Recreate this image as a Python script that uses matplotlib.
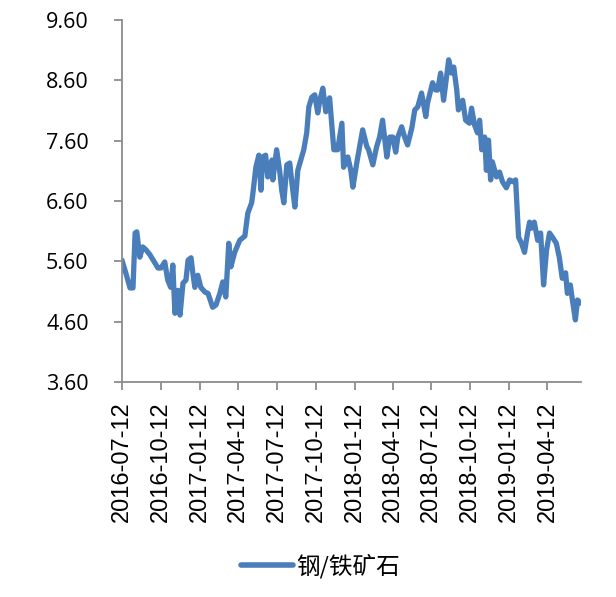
import matplotlib
matplotlib.use("Agg")
import matplotlib.pyplot as plt
import numpy as np
import pandas as pd

plt.rcParams['font.family'] = ['Noto Sans CJK SC', 'DejaVu Sans']

start_date = "2016-07-12"
day_offset = [0, 9, 19, 26, 31, 35, 42, 49, 57, 66, 78, 85, 92, 101, 108, 115, 120, 125,
              132, 137, 144, 151, 156, 163, 167, 172, 179, 186, 196, 203, 214, 222, 231,
              238, 245, 252, 257, 266, 278, 290, 297, 306, 309, 316, 323, 328, 332, 339,
              344, 354, 356, 365, 372, 377, 382, 389, 396, 401, 408, 415, 424, 429, 436,
              441, 448, 455, 462, 467, 474, 481, 490, 495, 500, 509, 519, 523, 533, 540,
              545, 554, 561, 568, 578, 582, 592, 601, 608, 615, 625, 632, 639, 646, 651,
              660, 667, 674, 684, 691, 698, 707, 717, 721, 733, 740, 745, 752, 759, 766,
              771, 778, 783, 790, 794, 804, 811, 820, 825, 832, 839, 844, 849, 856, 860,
              865, 870, 874, 884, 891, 898, 907, 915, 922, 929, 933, 936, 943, 950, 957,
              962, 966, 973, 981, 988, 995, 1002, 1009, 1016, 1025, 1032, 1039, 1047, 1051,
              1058, 1063, 1070, 1075, 1082]
ratio = [5.62, 5.41, 5.16, 5.16, 6.07, 6.09, 5.67, 5.84, 5.79, 5.71, 5.57, 5.49, 5.49, 5.59,
         5.29, 5.17, 5.54, 4.74, 5.12, 4.71, 5.24, 5.29, 5.62, 5.66, 5.42, 5.17, 5.37, 5.17,
         5.09, 5.07, 4.84, 4.88, 5.07, 5.26, 5.01, 5.90, 5.51, 5.75, 5.95, 6.02, 6.40, 6.57,
         6.73, 7.16, 7.36, 6.78, 7.33, 7.36, 7.00, 7.28, 6.95, 7.45, 7.11, 6.78, 6.57, 7.20,
         7.23, 6.90, 6.50, 7.11, 7.33, 7.45, 7.73, 8.16, 8.32, 8.36, 8.06, 8.27, 8.47, 8.08,
         8.31, 7.89, 7.45, 7.45, 7.89, 7.16, 7.33, 7.11, 6.83, 7.23, 7.50, 7.78, 7.50, 7.45,
         7.20, 7.50, 7.66, 7.94, 7.33, 7.66, 7.66, 7.41, 7.66, 7.83, 7.66, 7.53, 7.81, 8.11,
         8.16, 8.39, 8.00, 8.22, 8.56, 8.44, 8.44, 8.72, 8.27, 8.66, 8.94, 8.72, 8.82, 8.44,
         8.11, 8.27, 7.94, 7.89, 8.14, 7.86, 7.73, 7.94, 7.45, 7.66, 7.11, 7.61, 6.95, 7.25,
         7.00, 7.08, 6.92, 6.82, 6.95, 6.92, 6.95, 6.40, 6.00, 5.90, 5.75, 6.07, 6.25, 6.15,
         6.25, 5.95, 6.07, 5.21, 5.79, 6.07, 6.00, 5.90, 5.67, 5.32, 5.41, 5.07, 5.21, 4.96,
         4.63, 4.96, 4.91]
series_name = "钢/铁矿石"
tick_dates = ["2016-07-12", "2016-10-12", "2017-01-12", "2017-04-12", "2017-07-12",
              "2017-10-12", "2018-01-12", "2018-04-12", "2018-07-12", "2018-10-12",
              "2019-01-12", "2019-04-12"]
y_ticks = [3.60, 4.60, 5.60, 6.60, 7.60, 8.60, 9.60]

dates = pd.Timestamp(start_date) + pd.to_timedelta(day_offset, unit="D")

fig = plt.figure(figsize=(6.16, 5.97), dpi=100)
ax = fig.add_axes([0.198, 0.36, 0.745, 0.6065])

line_color = "#4A7EBB"
ax.plot(dates, ratio, color=line_color, lw=3.8, solid_joinstyle="round",
        solid_capstyle="round", label=series_name)

ax.set_ylim(3.6, 9.6)
ax.set_yticks(y_ticks)
ax.set_yticklabels([f"{v:.2f}" for v in y_ticks], family=["Open Sans", "DejaVu Sans"],
                   fontsize=15.5)
ax.set_xlim(pd.Timestamp(start_date), pd.Timestamp(start_date) + pd.Timedelta(days=1083))
tick_ts = pd.to_datetime(tick_dates)
ax.set_xticks(tick_ts)
ax.set_xticklabels(tick_dates, rotation=90, family=["Liberation Sans", "DejaVu Sans"],
                   fontsize=17)

for s in ["top", "right"]:
    ax.spines[s].set_visible(False)
for s in ["left", "bottom"]:
    ax.spines[s].set_color("#8C8C8C")
    ax.spines[s].set_linewidth(1.3)
ax.tick_params(axis="both", colors="#8C8C8C", length=6, width=1.3, direction="out")
ax.tick_params(axis="y", labelcolor="black", pad=18)
ax.tick_params(axis="x", labelcolor="black", pad=8)

leg = fig.legend(loc="center", bbox_to_anchor=(0.52, 0.052), frameon=False,
                 prop={"family": ["Noto Sans CJK SC"], "size": 17},
                 handlelength=2.2, handletextpad=0.15)
leg.get_lines()[0].set_linewidth(4)

fig.savefig("out.png", dpi=100)
